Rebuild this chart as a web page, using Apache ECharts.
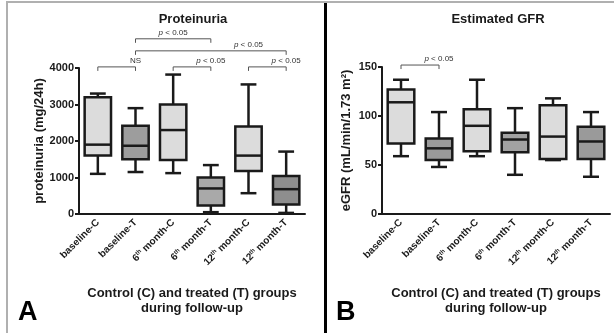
<!DOCTYPE html>
<html>
<head>
<meta charset="utf-8">
<script src="https://cdn.jsdelivr.net/npm/echarts@6/dist/echarts.min.js"></script>
<style>
  html, body { margin: 0; padding: 0; background: #fff; }
  #chart { width: 614px; height: 333px; }
</style>
</head>
<body>
<div id="chart"></div>
<script>
  // groups on the x axis (both panels)
  const categories = ['baseline-C', 'baseline-T', '6th month-C', '6th month-T', '12th month-C', '12th month-T'];

  // box data: [min, Q1, median, Q3, max]
  const proteinuria = [
    [1100, 1600, 1900, 3200, 3300],
    [1150, 1500, 1870, 2420, 2900],
    [1120, 1480, 2300, 3000, 3820],
    [50, 230, 700, 1000, 1340],
    [570, 1180, 1600, 2400, 3550],
    [30, 260, 680, 1040, 1710],
  ];
  const egfr = [
    [59, 72, 114, 127, 137],
    [48, 55, 67, 77, 104],
    [59, 64, 90, 107, 137],
    [40, 63, 76, 83, 108],
    [55, 56, 79, 111, 118],
    [38, 56, 74, 89, 104],
  ];

  const boxFills = ['#dcdcdc', '#9d9d9d', '#dcdcdc', '#a9a9a9', '#dcdcdc', '#8e8e8e'];
  const egfrFills = ['#dcdcdc', '#9a9a9a', '#dcdcdc', '#a2a2a2', '#dcdcdc', '#9a9a9a'];

  // significance brackets: [from category, to category, height, label centre]
  const proteinuriaBrackets = [
    [0, 1, 4030, 0.5],
    [1, 3, 4800, 2.0],
    [1, 5, 4470, 3.65],
    [2, 3, 4030, 2.5],
    [4, 5, 4030, 4.5],
  ];
  const proteinuriaBracketText = ['NS', 'p', 'p', 'p', 'p'];
  const egfrBrackets = [[0, 1, 152, 0.5]];
  const egfrBracketText = ['p'];

  const font = '"Liberation Sans", Arial, sans-serif';
  const ink = '#1a1a1a';

  const labelRich = {
    s: { fontSize: 6, fontWeight: 'bold', fontFamily: font, color: ink, padding: [0, 0, 5, 0] },
  };
  const labelFormatter = (v) => v.replace(/^(\d+)th/, '$1{s|th}');

  function makeBoxRenderer(fills) {
    return function (params, api) {
      const x = api.value(0);
      const pMin = api.coord([x, api.value(1)]);
      const pQ1 = api.coord([x, api.value(2)]);
      const pMed = api.coord([x, api.value(3)]);
      const pQ3 = api.coord([x, api.value(4)]);
      const pMax = api.coord([x, api.value(5)]);
      const band = api.size([1, 0])[0];
      const hw = band * 0.35;
      const cw = band * 0.21;
      const cx = pMed[0];
      const st = { stroke: ink, lineWidth: 2.5 };
      return {
        type: 'group',
        children: [
          { type: 'line', shape: { x1: cx, y1: pMax[1], x2: cx, y2: pQ3[1] }, style: st },
          { type: 'line', shape: { x1: cx, y1: pQ1[1], x2: cx, y2: pMin[1] }, style: st },
          { type: 'line', shape: { x1: cx - cw, y1: pMax[1], x2: cx + cw, y2: pMax[1] }, style: st },
          { type: 'line', shape: { x1: cx - cw, y1: pMin[1], x2: cx + cw, y2: pMin[1] }, style: st },
          {
            type: 'rect',
            shape: { x: cx - hw, y: pQ3[1], width: hw * 2, height: pQ1[1] - pQ3[1] },
            style: { fill: fills[params.dataIndex], stroke: ink, lineWidth: 2.5 },
          },
          { type: 'line', shape: { x1: cx - hw, y1: pMed[1], x2: cx + hw, y2: pMed[1] }, style: st },
        ],
      };
    };
  }

  function makeBracketRenderer(texts) {
    return function (params, api) {
      const a = api.coord([api.value(0), api.value(2)]);
      const b = api.coord([api.value(1), api.value(2)]);
      const t = api.coord([api.value(3), api.value(2)]);
      const txt = texts[params.dataIndex] === 'NS' ? 'NS' : '{i|p} < 0.05';
      return {
        type: 'group',
        children: [
          {
            type: 'polyline',
            shape: { points: [[a[0], a[1] + 4], [a[0], a[1]], [b[0], b[1]], [b[0], b[1] + 4]] },
            style: { stroke: '#555', lineWidth: 1, fill: null },
          },
          {
            type: 'text',
            x: t[0],
            y: t[1] - 2,
            style: {
              text: txt,
              align: 'center',
              verticalAlign: 'bottom',
              fontSize: 8,
              fontFamily: font,
              fill: '#333',
              rich: { i: { fontStyle: 'italic', fontSize: 8, fontFamily: font, fill: '#333' } },
            },
          },
        ],
      };
    };
  }

  function xAxisFor(gridIndex) {
    return {
      type: 'category',
      gridIndex,
      data: categories,
      axisLine: { lineStyle: { color: ink, width: 2 } },
      axisTick: { alignWithLabel: true, length: 4, interval: 0, lineStyle: { color: ink, width: 2 } },
      axisLabel: {
        rotate: 45,
        interval: 0,
        margin: 7,
        fontSize: 10,
        fontWeight: 'bold',
        fontFamily: font,
        color: ink,
        formatter: labelFormatter,
        rich: labelRich,
      },
      name: 'Control (C) and treated (T) groups\nduring follow-up',
      nameLocation: 'middle',
      nameGap: 72,
      nameTextStyle: { fontSize: 13, fontWeight: 'bold', fontFamily: font, color: ink, lineHeight: 15 },
    };
  }

  function yAxisFor(gridIndex, max, interval, name, nameGap) {
    return {
      type: 'value',
      gridIndex,
      min: 0,
      max,
      interval,
      splitLine: { show: false },
      axisLine: { show: true, lineStyle: { color: ink, width: 2 } },
      axisTick: { show: true, length: 4, lineStyle: { color: ink, width: 2 } },
      axisLabel: {
        fontSize: 11,
        fontWeight: 'bold',
        fontFamily: font,
        color: ink,
        margin: 5,
        formatter: (v) => String(v),
      },
      name,
      nameLocation: 'middle',
      nameGap,
      nameTextStyle: { fontSize: 13, fontWeight: 'bold', fontFamily: font, color: ink },
    };
  }

  const chart = echarts.init(document.getElementById('chart'));

  const option = {
    animation: false,
    backgroundColor: '#fff',
    title: [
      {
        text: 'Proteinuria',
        left: 188,
        textAlign: 'center',
        top: 8,
        textStyle: { fontSize: 13, fontWeight: 'bold', fontFamily: font, color: ink },
      },
      {
        text: 'Estimated GFR',
        left: 493,
        textAlign: 'center',
        top: 8,
        textStyle: { fontSize: 13, fontWeight: 'bold', fontFamily: font, color: ink },
      },
    ],
    grid: [
      { left: 79, top: 68, width: 226, height: 146 },
      { left: 382, top: 67, width: 228, height: 147 },
    ],
    xAxis: [xAxisFor(0), xAxisFor(1)],
    yAxis: [
      yAxisFor(0, 4000, 1000, 'proteinuria (mg/24h)', 30),
      yAxisFor(1, 150, 50, 'eGFR (mL/min/1.73 m²)', 29),
    ],
    series: [
      {
        type: 'custom',
        xAxisIndex: 0,
        yAxisIndex: 0,
        renderItem: makeBoxRenderer(boxFills),
        data: proteinuria.map((d, i) => [i, ...d]),
      },
      {
        type: 'custom',
        xAxisIndex: 1,
        yAxisIndex: 1,
        renderItem: makeBoxRenderer(egfrFills),
        data: egfr.map((d, i) => [i, ...d]),
      },
      {
        type: 'custom',
        xAxisIndex: 0,
        yAxisIndex: 0,
        clip: false,
        renderItem: makeBracketRenderer(proteinuriaBracketText),
        data: proteinuriaBrackets,
      },
      {
        type: 'custom',
        xAxisIndex: 1,
        yAxisIndex: 1,
        clip: false,
        renderItem: makeBracketRenderer(egfrBracketText),
        data: egfrBrackets,
      },
    ],
    graphic: [
      { type: 'line', shape: { x1: 6, y1: 2, x2: 614, y2: 2 }, style: { stroke: '#b0b0b0', lineWidth: 2 } },
      { type: 'line', shape: { x1: 7, y1: 1, x2: 7, y2: 333 }, style: { stroke: '#b0b0b0', lineWidth: 2 } },
      { type: 'line', shape: { x1: 325.5, y1: 3, x2: 325.5, y2: 333 }, style: { stroke: '#000', lineWidth: 3 } },
      {
        type: 'text',
        left: 18,
        top: 299,
        style: { text: 'A', fontSize: 27, fontWeight: 'bold', fontFamily: font, fill: '#000' },
      },
      {
        type: 'text',
        left: 336,
        top: 299,
        style: { text: 'B', fontSize: 27, fontWeight: 'bold', fontFamily: font, fill: '#000' },
      },
    ],
  };

  chart.setOption(option);
</script>
</body>
</html>
